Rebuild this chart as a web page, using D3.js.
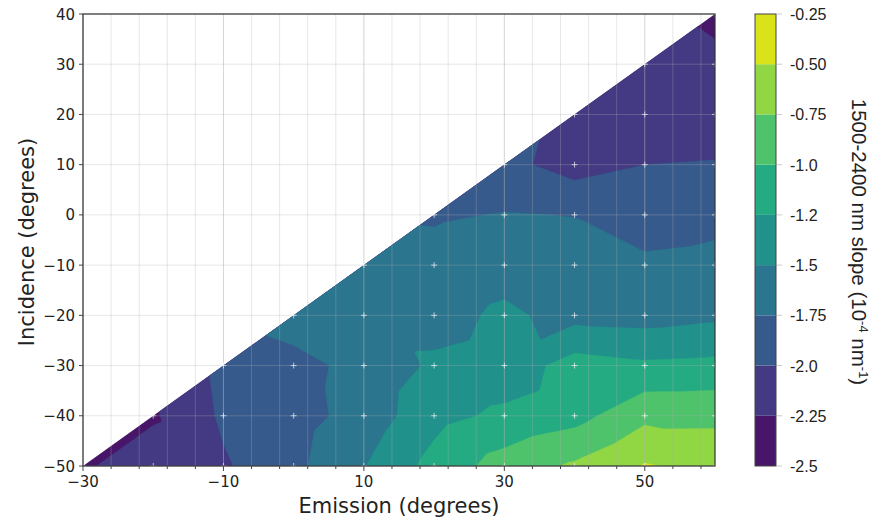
<!DOCTYPE html>
<html><head><meta charset="utf-8">
<script src="https://cdn.jsdelivr.net/npm/d3@7"></script>
<style>body{margin:0;background:#fff} svg{display:block}</style>
</head><body><svg id="c" width="872" height="520"></svg>
<script>
// ---------------- data ----------------
const emission = [-30, -20, -10, 0, 10, 20, 30, 40, 50, 60];
const incidence = [-50, -40, -30, -20, -10, 0, 10, 20, 30, 40];
// slope values for each emission column, listed from incidence -50 upward (only where incidence <= emission - 20)
const slopeEmM30 = [-2.28];
const slopeEmM20 = [-2.12, -2.28];
const slopeEmM10 = [-2.03, -1.96, -1.93];
const slopeEm0   = [-1.81, -1.85, -1.83, -1.63];
const slopeEm10  = [-1.51, -1.65, -1.67, -1.60, -1.65];
const slopeEm20  = [-1.163, -1.33, -1.46, -1.59, -1.67, -1.775];
const slopeEm30  = [-0.89, -1.197, -1.41, -1.453, -1.60, -1.739, -1.925];
const slopeEm40  = [-0.712, -1.09, -1.14, -1.585, -1.66, -1.755, -2.11, -2.075];
const slopeEm50  = [-0.48, -0.81, -1.206, -1.603, -1.70, -1.885, -2.0, -2.10, -2.07];
const slopeEm60  = [-0.58, -0.807, -1.185, -1.547, -1.67, -1.83, -1.99, -2.10, -2.19, -2.31];
const columns = [slopeEmM30, slopeEmM20, slopeEmM10, slopeEm0, slopeEm10, slopeEm20, slopeEm30, slopeEm40, slopeEm50, slopeEm60];
// grid cells (lower-left corner: emission, incidence) whose triangulation runs lower-left to upper-right
const llurCells = [[30, -30], [40, 0], [40, -40]];

const levels = [-2.5, -2.25, -2.0, -1.75, -1.5, -1.25, -1.0, -0.75, -0.5, -0.25];
const levelLabels = ["-2.5", "-2.25", "-2.0", "-1.75", "-1.5", "-1.2", "-1.0", "-0.75", "-0.50", "-0.25"];
const xTicks = [-30, -10, 10, 30, 50];
const xMinorTicks = d3.range(-30, 61, 4);
const yTicks = [-50, -40, -30, -20, -10, 0, 10, 20, 30, 40];

// ---------------- layout ----------------
const svg = d3.select("#c");
const X0 = 83, X1 = 715, Y0 = 14, Y1 = 466;
const xS = d3.scaleLinear().domain([-30, 60]).range([X0, X1]);
const yS = d3.scaleLinear().domain([-50, 40]).range([Y1, Y0]);
const colorOf = k => d3.interpolateViridis((k + 0.5) / (levels.length - 1));
const llurSet = new Set(llurCells.map(d => d[0] + "," + d[1]));

// linear interpolation on the triangulated grid
function val(e, i) {
  e = Math.max(-30, Math.min(60, e));
  i = Math.max(-50, Math.min(40, i));
  if (i > e - 20) i = e - 20;
  const k = Math.min(Math.floor((e + 30) / 10), 8);
  const j = Math.min(Math.floor((i + 50) / 10), k);
  const u = (e - emission[k]) / 10, w = (i - incidence[j]) / 10;
  const g = (a, b) => columns[a][b];
  const v00 = g(k, j), v10 = g(k + 1, j), v11 = g(k + 1, j + 1);
  if (j === k) return v00 + u * (v10 - v00) + w * (v11 - v10);
  const v01 = g(k, j + 1);
  if (llurSet.has(emission[k] + "," + incidence[j])) {
    if (u >= w) return v00 + u * (v10 - v00) + w * (v11 - v10);
    return v00 + w * (v01 - v00) + u * (v11 - v01);
  }
  if (u + w <= 1) return v00 + u * (v10 - v00) + w * (v01 - v00);
  return v11 + (1 - u) * (v01 - v11) + (1 - w) * (v10 - v11);
}

const step = 0.25, eStart = -31, iStart = -51;
const n = Math.round((61 - eStart) / step) + 1, m = Math.round((41 - iStart) / step) + 1;
const grid = new Array(n * m);
for (let r = 0; r < m; r++) for (let c = 0; c < n; c++) grid[r * n + c] = val(eStart + c * step, iStart + r * step);

const contours = d3.contours().size([n, m]).thresholds(levels.slice(0, -1))(grid);
const proj = d3.geoTransform({
  point: function (x, y) { this.stream.point(xS(eStart + (x - 0.5) * step), yS(iStart + (y - 0.5) * step)); }
});
const path = d3.geoPath(proj);

const defs = svg.append("defs");
defs.append("clipPath").attr("id", "tri").append("path")
  .attr("d", `M${xS(-30)},${yS(-50)}L${xS(60)},${yS(-50)}L${xS(60)},${yS(40)}Z`);

svg.append("rect").attr("x", X0).attr("y", Y0).attr("width", X1 - X0).attr("height", Y1 - Y0).attr("fill", "#fff");

const gc = svg.append("g").attr("clip-path", "url(#tri)");
contours.forEach((c, k) => {
  gc.append("path").attr("d", path(c)).attr("fill", colorOf(k)).attr("stroke", colorOf(k)).attr("stroke-width", 0.3);
});

// grid
const gg = svg.append("g");
xMinorTicks.forEach(t => {
  const major = xTicks.includes(t);
  gg.append("line").attr("x1", xS(t)).attr("x2", xS(t)).attr("y1", Y0).attr("y2", Y1)
    .attr("stroke", "#b0b0b0").attr("stroke-opacity", major ? 0.55 : 0.3).attr("stroke-width", 1);
});
yTicks.forEach(t => {
  gg.append("line").attr("x1", X0).attr("x2", X1).attr("y1", yS(t)).attr("y2", yS(t))
    .attr("stroke", "#b0b0b0").attr("stroke-opacity", 0.3).attr("stroke-width", 1);
});

// data point markers
const gm = svg.append("g").attr("stroke", "#fff").attr("stroke-opacity", 0.65).attr("stroke-width", 1);
columns.forEach((col, k) => col.forEach((v, j) => {
  const px = xS(emission[k]), py = yS(incidence[j]);
  gm.append("line").attr("x1", px - 3).attr("x2", px + 3).attr("y1", py).attr("y2", py);
  gm.append("line").attr("x1", px).attr("x2", px).attr("y1", py - 3).attr("y2", py + 3);
}));

// frame
svg.append("rect").attr("x", X0).attr("y", Y0).attr("width", X1 - X0).attr("height", Y1 - Y0)
  .attr("fill", "none").attr("stroke", "#333").attr("stroke-width", 1.2);

// axes ticks
const ga = svg.append("g").attr("stroke", "#444").attr("stroke-width", 1);
xMinorTicks.forEach(t => {
  const major = xTicks.includes(t);
  ga.append("line").attr("x1", xS(t)).attr("x2", xS(t)).attr("y1", Y1).attr("y2", Y1 + (major ? 5 : 3));
});
yTicks.forEach(t => ga.append("line").attr("x1", X0 - 4).attr("x2", X0).attr("y1", yS(t)).attr("y2", yS(t)));

const fmt = t => (t < 0 ? "\u2212" + Math.abs(t) : String(t));
const tf = "'DejaVu Sans', sans-serif";
xTicks.forEach(t => svg.append("text").attr("x", xS(t)).attr("y", Y1 + 21).attr("text-anchor", "middle")
  .attr("font-family", tf).attr("font-size", 15).attr("fill", "#222").text(fmt(t)));
yTicks.forEach(t => svg.append("text").attr("x", X0 - 8).attr("y", yS(t) + 5.5).attr("text-anchor", "end")
  .attr("font-family", tf).attr("font-size", 15).attr("fill", "#222").text(fmt(t)));

svg.append("text").attr("x", (X0 + X1) / 2).attr("y", 513).attr("text-anchor", "middle")
  .attr("font-family", tf).attr("font-size", 21).attr("fill", "#222").text("Emission (degrees)");
svg.append("text").attr("transform", `translate(34,${(Y0 + Y1) / 2 + 2}) rotate(-90)`).attr("text-anchor", "middle")
  .attr("font-family", tf).attr("font-size", 21).attr("fill", "#222").text("Incidence (degrees)");

// colorbar
const CX0 = 755, CX1 = 776;
const cS = d3.scaleLinear().domain([levels[0], levels[levels.length - 1]]).range([Y1, Y0]);
const gcb = svg.append("g");
for (let k = 0; k < levels.length - 1; k++) {
  gcb.append("rect").attr("x", CX0).attr("width", CX1 - CX0)
    .attr("y", cS(levels[k + 1])).attr("height", cS(levels[k]) - cS(levels[k + 1])).attr("fill", colorOf(k));
}
gcb.append("rect").attr("x", CX0).attr("y", Y0).attr("width", CX1 - CX0).attr("height", Y1 - Y0)
  .attr("fill", "none").attr("stroke", "#444").attr("stroke-width", 1);
const cf = "'Liberation Sans', Arial, sans-serif";
levels.forEach((l, k) => {
  gcb.append("line").attr("x1", CX1 + 1).attr("x2", CX1 + 6).attr("y1", cS(l)).attr("y2", cS(l))
    .attr("stroke", "#ccc").attr("stroke-width", 1);
  gcb.append("text").attr("x", CX1 + 14).attr("y", cS(l) + 6).attr("font-family", cf).attr("font-size", 16)
    .attr("fill", "#222").text(levelLabels[k]);
});
const lab = svg.append("text").attr("transform", `translate(852,${(Y0 + Y1) / 2 + 2}) rotate(90)`)
  .attr("text-anchor", "middle").attr("font-family", cf).attr("font-size", 20.5).attr("fill", "#222");
lab.append("tspan").text("1500-2400 nm slope (10");
lab.append("tspan").attr("dy", -7).attr("font-size", 13).text("-4");
lab.append("tspan").attr("dy", 7).text(" nm");
lab.append("tspan").attr("dy", -7).attr("font-size", 13).text("-1");
lab.append("tspan").attr("dy", 7).text(")");
</script>
</body></html>
